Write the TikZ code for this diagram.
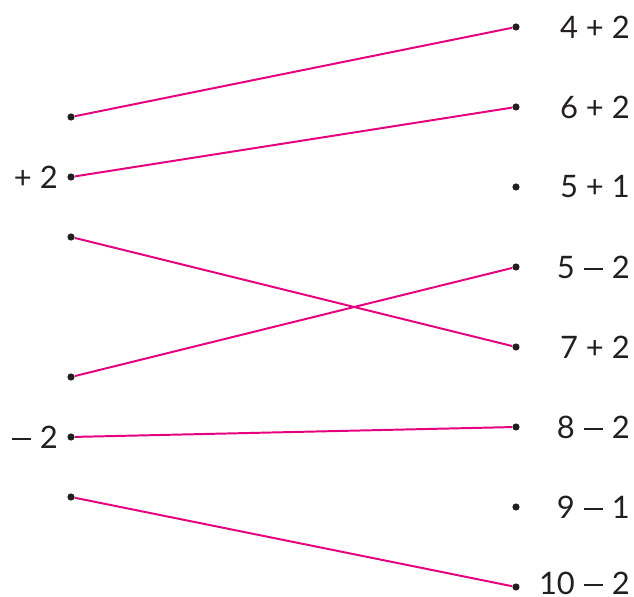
\documentclass[tikz,border=0pt]{standalone}
\usepackage{fontspec}
\setmainfont{Lato}
\usepackage{xcolor}
\definecolor{linkpink}{HTML}{E6007E}
\definecolor{inkgray}{HTML}{231F20}
\newcommand{\mns}{\kern0.03em\rule[0.27em]{0.62em}{0.06em}\kern0.03em}

\begin{document}
\begin{tikzpicture}[
  x=0.025cm, y=-0.025cm,
  every node/.style = {font=\fontsize{22}{27}\selectfont, text=inkgray},
  pt/.style = {circle, fill=inkgray, inner sep=0pt, minimum size=0.18cm},
  sum/.style = {anchor=east, inner sep=0pt},
  link/.style = {linkpink, line width=1.4pt}
]
  \useasboundingbox (0,0) rectangle (634,597);

  % left column
  \node[pt] (l1) at (71,117) {};
  \node[pt] (l2) at (71,177) {};
  \node[pt] (l3) at (71,237) {};
  \node[pt] (l4) at (71,377) {};
  \node[pt] (l5) at (71,437) {};
  \node[pt] (l6) at (71,497) {};
  \node[sum] (plus) at (58,177) {+ 2};
  \node[sum] (minus) at (58,437) {\mns{} 2};

  % right column
  \node[pt] (r1) at (516,27) {};
  \node[pt] (r2) at (516,107) {};
  \node[pt] (r3) at (516,187) {};
  \node[pt] (r4) at (516,267) {};
  \node[pt] (r5) at (516,347) {};
  \node[pt] (r6) at (516,427) {};
  \node[pt] (r7) at (516,507) {};
  \node[pt] (r8) at (516,587) {};
  \node[sum] (s1) at (630,27) {4 + 2};
  \node[sum] (s2) at (630,107) {6 + 2};
  \node[sum] (s3) at (630,187) {5 + 1};
  \node[sum] (s4) at (630,267) {5 \mns{} 2};
  \node[sum] (s5) at (630,347) {7 + 2};
  \node[sum] (s6) at (630,427) {8 \mns{} 2};
  \node[sum] (s7) at (630,507) {9 \mns{} 1};
  \node[sum] (s8) at (630,583) {10 \mns{} 2};

  \draw[link] (l1) -- (r1);
  \draw[link] (l2) -- (r2);
  \draw[link] (l3) -- (r5);
  \draw[link] (l4) -- (r4);
  \draw[link] (l5) -- (r6);
  \draw[link] (l6) -- (r8);
\end{tikzpicture}
\end{document}
